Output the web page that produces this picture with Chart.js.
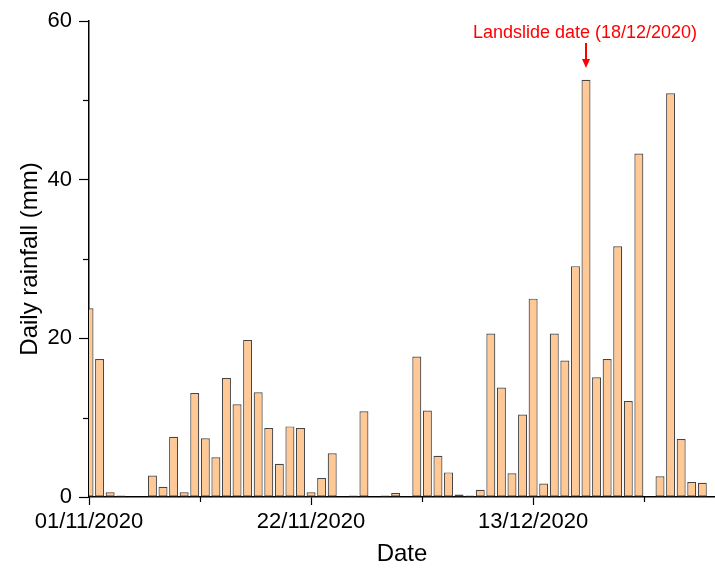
<!DOCTYPE html>
<html>
<head>
<meta charset="utf-8">
<script src="https://cdn.jsdelivr.net/npm/chart.js@4"></script>
<style>
  body { margin: 0; background: #fff; }
  #wrap { width: 715px; height: 571px; }
</style>
</head>
<body>
<div id="wrap"><canvas id="myChart" width="715" height="571"></canvas></div>
<script>
// daily rainfall from 01/11/2020, one value per day (mm)
const startDate = new Date(2020, 10, 1);
const rainfall = [
  23.8, 17.4, 0.6, 0.2, 0, 0, 2.7, 1.3, 7.6, 0.6,
  13.1, 7.4, 5.0, 15.0, 11.7, 19.8, 13.2, 8.7, 4.2, 8.9,
  8.7, 0.6, 2.4, 5.5, 0, 0.2, 10.8, 0, 0.2, 0.5,
  0, 17.7, 10.9, 5.2, 3.1, 0.3, 0.2, 0.9, 20.6, 13.8,
  3.0, 10.4, 25.0, 1.7, 20.6, 17.2, 29.1, 52.6, 15.1, 17.4,
  31.6, 12.1, 43.3, 0, 2.6, 50.9, 7.3, 1.9, 1.8
];

// dd/mm/yyyy label for every day
const dates = [];
for (let i = 0; i < rainfall.length; i++) {
  const d = new Date(startDate);
  d.setDate(d.getDate() + i);
  const dd = String(d.getDate()).padStart(2, "0");
  const mm = String(d.getMonth() + 1).padStart(2, "0");
  dates.push(dd + "/" + mm + "/" + d.getFullYear());
}

// axis ticks (day index from start)
const xMajorTicks = [0, 21, 42];
const xMinorTicks = [10.5, 31.5, 52.5];
const yMajorTicks = [0, 20, 40, 60];
const yMinorTicks = [10, 30, 50];

const landslideDate = "18/12/2020";
const landslideIndex = dates.indexOf(landslideDate);

const fontFamily = "'Liberation Sans', Arial, sans-serif";

// minor ticks + landslide arrow
const extras = {
  id: "extras",
  afterDraw(chart) {
    const c = chart.ctx;
    const xs = chart.scales.x;
    const ys = chart.scales.y;
    const area = chart.chartArea;
    c.save();
    c.strokeStyle = "#000";
    c.lineWidth = 1.2;
    xMinorTicks.forEach(function (v) {
      const px = Math.round(xs.getPixelForValue(v)) + 0.5;
      c.beginPath();
      c.moveTo(px, area.bottom);
      c.lineTo(px, area.bottom + 5);
      c.stroke();
    });
    yMinorTicks.forEach(function (v) {
      const py = Math.round(ys.getPixelForValue(v)) + 0.5;
      c.beginPath();
      c.moveTo(area.left, py);
      c.lineTo(area.left - 6, py);
      c.stroke();
    });

    // annotation
    const ax = xs.getPixelForValue(landslideIndex);
    c.fillStyle = "#ff0000";
    c.strokeStyle = "#ff0000";
    c.font = "18px " + fontFamily;
    c.textAlign = "center";
    c.textBaseline = "middle";
    c.fillText("Landslide date (" + landslideDate + ")", ax - 1, area.top + 12);
    c.lineWidth = 2;
    c.beginPath();
    c.moveTo(ax, area.top + 22);
    c.lineTo(ax, area.top + 40);
    c.stroke();
    c.beginPath();
    c.moveTo(ax - 4, area.top + 38);
    c.lineTo(ax + 4, area.top + 38);
    c.lineTo(ax, area.top + 47);
    c.closePath();
    c.fill();
    c.restore();
  }
};

const ctx = document.getElementById("myChart");
new Chart(ctx, {
  type: "bar",
  data: {
    labels: dates,
    datasets: [
      {
        label: "Daily rainfall (mm)",
        data: rainfall.map(function (v, i) { return { x: i, y: v }; }),
        backgroundColor: "#ffc894",
        borderColor: "#474747",
        borderWidth: 1.2,
        borderSkipped: false,
        categoryPercentage: 0.85,
        barPercentage: 1
      }
    ]
  },
  options: {
    responsive: false,
    animation: false,
    layout: { padding: { top: 21, right: 0, left: 0, bottom: 0 } },
    plugins: { legend: { display: false }, tooltip: { enabled: false } },
    scales: {
      x: {
        type: "linear",
        offset: false,
        min: 0,
        max: 59.2,
        afterBuildTicks: function (scale) {
          scale.ticks = xMajorTicks.map(function (v) { return { value: v }; });
        },
        afterFit: function (scale) { scale.height = 74; },
        ticks: {
          autoSkip: false,
          maxRotation: 0,
          padding: 4,
          color: "#000",
          font: { family: fontFamily, size: 22 },
          callback: function (v) { return dates[v]; }
        },
        grid: {
          display: true,
          offset: false,
          drawOnChartArea: false,
          drawTicks: true,
          tickLength: 8,
          tickColor: "#000",
          tickWidth: 1.2
        },
        border: { display: true, color: "#000", width: 1.5 },
        title: {
          display: true,
          text: "Date",
          color: "#000",
          font: { family: fontFamily, size: 24 },
          padding: { top: 0, bottom: 2 }
        }
      },
      y: {
        min: 0,
        max: 60,
        afterBuildTicks: function (scale) {
          scale.ticks = yMajorTicks.map(function (v) { return { value: v }; });
        },
        afterFit: function (scale) { scale.width = 89; },
        ticks: {
          padding: 7,
          color: "#000",
          font: { family: fontFamily, size: 22 }
        },
        grid: {
          display: true,
          drawOnChartArea: false,
          drawTicks: true,
          tickLength: 10,
          tickColor: "#000",
          tickWidth: 1.2
        },
        border: { display: true, color: "#000", width: 1.5 },
        title: {
          display: true,
          text: "Daily rainfall (mm)",
          color: "#000",
          font: { family: fontFamily, size: 24 },
          padding: { top: 16, bottom: 0 }
        }
      }
    }
  },
  plugins: [extras]
});
</script>
</body>
</html>
